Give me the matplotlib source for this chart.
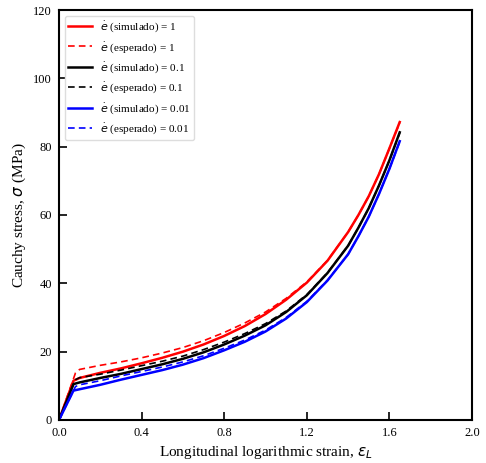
import matplotlib
matplotlib.use("Agg")
import matplotlib.pyplot as plt

plt.rcParams['font.family'] = ['Liberation Serif', 'DejaVu Serif']
plt.rcParams['mathtext.fontset'] = 'dejavusans'

# strain values
x_sim = [0, 0.07, 0.1, 0.2, 0.3, 0.4, 0.5, 0.6, 0.7, 0.8, 0.9, 1.0, 1.1, 1.2, 1.3, 1.4, 1.45, 1.5, 1.55, 1.6, 1.65]
x_exp = [0, 0.08, 0.1, 0.2, 0.3, 0.4, 0.5, 0.6, 0.7, 0.8, 0.9, 1.0, 1.1, 1.2, 1.3, 1.4, 1.45, 1.5, 1.55, 1.6, 1.65]

# Cauchy stress (MPa)
red_sim = [0, 11.5, 12.3, 13.8, 15.1, 16.6, 18.2, 20.0, 22.1, 24.6, 27.5, 31.0, 35.2, 40.2, 46.6, 55.0, 60.0, 65.5, 72.0, 79.5, 87.2]
red_exp = [0, 13.8, 14.8, 16.0, 17.0, 18.2, 19.6, 21.2, 23.2, 25.6, 28.4, 31.6, 35.6, 40.4, 46.7, 55.0, 60.0, 65.5, 72.0, 79.5, 87.0]
black_sim = [0, 10.5, 11.0, 12.3, 13.5, 14.9, 16.3, 17.9, 19.8, 22.1, 24.7, 27.7, 31.6, 36.5, 43.0, 51.0, 56.3, 62.0, 68.7, 76.0, 84.2]
black_exp = [0, 11.8, 12.4, 13.4, 14.6, 15.9, 17.2, 18.7, 20.6, 22.8, 25.3, 28.2, 31.9, 36.7, 43.1, 51.0, 56.3, 62.0, 68.7, 76.0, 84.0]
blue_sim = [0, 8.6, 9.0, 10.3, 11.8, 13.2, 14.6, 16.2, 18.1, 20.4, 22.9, 25.9, 29.7, 34.5, 40.8, 48.5, 53.8, 59.5, 66.2, 73.5, 81.6]
blue_exp = [0, 9.8, 10.3, 11.5, 12.9, 14.2, 15.5, 17.0, 18.8, 21.0, 23.4, 26.3, 30.0, 34.7, 40.9, 48.5, 53.8, 59.5, 66.2, 73.5, 81.4]

rates = ['1', '0.1', '0.01']

fig = plt.figure(figsize=(4.86, 4.63), dpi=100)
ax = fig.add_axes([0.1214, 0.0929, 0.8498, 0.8855])

series = [(red_sim, red_exp, 'red'), (black_sim, black_exp, 'black'), (blue_sim, blue_exp, 'blue')]
for (sim, exp, col), r in zip(series, rates):
    ax.plot(x_sim, sim, color=col, lw=1.8, label=r'$\dot{e}$ (simulado) = ' + r)
    ax.plot(x_exp, exp, color=col, lw=1.2, ls=(0, (4, 2.5)), label=r'$\dot{e}$ (esperado) = ' + r)

ax.set_xlim(0, 2.0)
ax.set_ylim(0, 120)
ax.set_xticks([0.0, 0.4, 0.8, 1.2, 1.6, 2.0])
ax.set_yticks([0, 20, 40, 60, 80, 100, 120])
ax.set_xticklabels(['0.0', '0.4', '0.8', '1.2', '1.6', '2.0'])
ax.tick_params(direction='in', length=6, width=1.2, labelsize=9, pad=5)
for s in ax.spines.values():
    s.set_linewidth(1.5)

ax.set_xlabel(r'Longitudinal logarithmic strain, $\varepsilon_L$', fontsize=11)
ax.set_ylabel(r'Cauchy stress, $\sigma$ (MPa)', fontsize=11)

ax.legend(loc='upper left', fontsize=8, handlelength=2.1, handletextpad=0.7,
          labelspacing=0.5, borderpad=0.35, edgecolor='#dddddd', framealpha=1)

fig.savefig('out.png', dpi=100)
